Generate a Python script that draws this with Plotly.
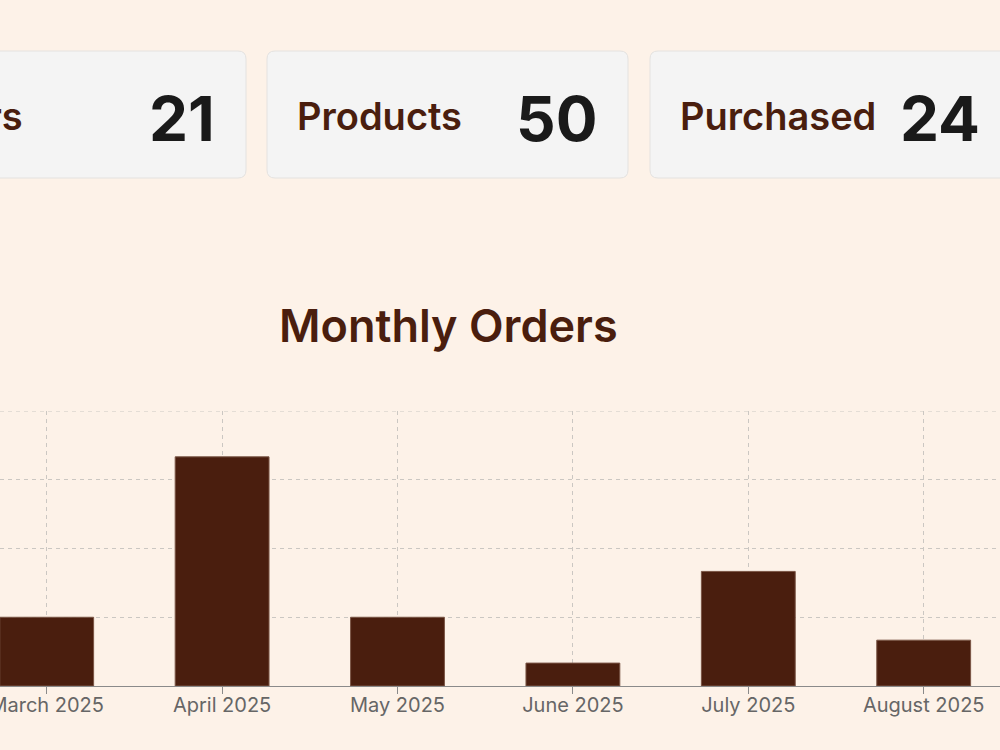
import plotly.graph_objects as go

months = ["March 2025", "April 2025", "May 2025", "June 2025", "July 2025", "August 2025"]
orders = [3, 10, 3, 1, 5, 2]

card_labels = ["Orders", "Products", "Purchased"]
card_values = ["21", "50", "24"]

BG = "#fdf2e8"
BROWN = "#4a1e0e"
GRID = "#cbc7c2"

# pixel layout helpers (plot area spans x 0..1000, y 411..686)
PLOT_TOP, PLOT_BOT = 411, 686
def px(x):
    return x / 1000.0
def py(y):
    return (PLOT_BOT - y) / (PLOT_BOT - PLOT_TOP)

def rounded_rect(x0, y0, x1, y1, r=8):
    X0, X1 = px(x0), px(x1)
    Y0, Y1 = py(y0), py(y1)
    rx, ry = r / 1000.0, r / (PLOT_BOT - PLOT_TOP)
    return (f"M {X0+rx},{Y0} L {X1-rx},{Y0} Q {X1},{Y0} {X1},{Y0-ry} "
            f"L {X1},{Y1+ry} Q {X1},{Y1} {X1-rx},{Y1} L {X0+rx},{Y1} "
            f"Q {X0},{Y1} {X0},{Y1+ry} L {X0},{Y0-ry} Q {X0},{Y0} {X0+rx},{Y0} Z")

fig = go.Figure()
fig.add_trace(go.Bar(
    x=months, y=orders, width=0.535,
    marker=dict(color=BROWN, line=dict(color="#7a5545", width=1)),
    hoverinfo="x+y",
))

cards = [(-115, 246), (267, 628), (650, 1011)]
shapes = []
annotations = []
for i, (l, r) in enumerate(cards):
    shapes.append(dict(type="path", path=rounded_rect(l, 51, r, 178), xref="paper", yref="paper",
                       fillcolor="#f4f4f4", line=dict(color="#e4e2e0", width=1), layer="below"))
    if i == 0:
        annotations.append(dict(x=px(25), y=py(116), xref="paper", yref="paper", text=card_labels[i],
                                xanchor="right", yanchor="middle", showarrow=False,
                                font=dict(family="Inter", size=38, color=BROWN, weight=600)))
    else:
        annotations.append(dict(x=px(l + 28), y=py(116), xref="paper", yref="paper", text=card_labels[i],
                                xanchor="left", yanchor="middle", showarrow=False,
                                font=dict(family="Inter", size=38, color=BROWN, weight=600)))
    annotations.append(dict(x=px(r - 29), y=py(119), xref="paper", yref="paper", text=card_values[i],
                            xanchor="right", yanchor="middle", showarrow=False,
                            font=dict(family="Inter", size=62, color="#1a1a1a", weight=700)))

annotations.append(dict(x=px(448), y=py(325), xref="paper", yref="paper", text="Monthly Orders",
                        xanchor="center", yanchor="middle", showarrow=False,
                        font=dict(family="Inter", size=45, color=BROWN, weight=600)))

# top grid line (at the end of the y range)
shapes.append(dict(type="line", xref="paper", yref="y", x0=0, x1=1, y0=12, y1=12,
                   line=dict(color=GRID, width=1, dash="4px,4px"), layer="below"))

spacing = 175.4
left = -46.7 / spacing
fig.update_layout(
    width=1000, height=750,
    margin=dict(l=0, r=0, t=PLOT_TOP, b=750 - PLOT_BOT, autoexpand=False),
    paper_bgcolor=BG, plot_bgcolor=BG,
    showlegend=False,
    shapes=shapes, annotations=annotations,
    xaxis=dict(range=[left, left + 1000 / spacing], showgrid=True, gridcolor=GRID,
               griddash="4px,4px", gridwidth=1, showline=True, linecolor="#8a8a8a", linewidth=1,
               ticks="outside", ticklen=7, tickcolor="#8a8a8a", automargin=False,
               ticklabelstandoff=-6,
               tickfont=dict(family="Inter", size=20, color="#666666"), fixedrange=True),
    yaxis=dict(range=[0, 12], dtick=3, showgrid=True, gridcolor=GRID, griddash="4px,4px",
               gridwidth=1, zeroline=False, showticklabels=False, fixedrange=True, automargin=False),
    font=dict(family="Inter"),
)

fig.write_html("out.html", config={"displayModeBar": False})
